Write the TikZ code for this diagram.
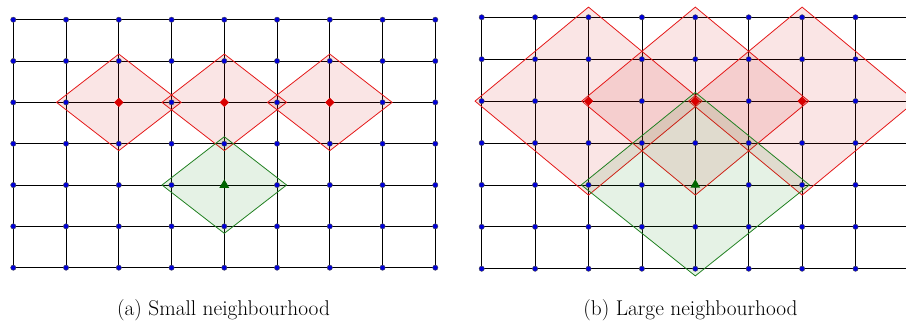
\documentclass[tikz,border=0pt]{standalone}
\usepackage{tikz}
\usetikzlibrary{shapes.geometric}
\definecolor{vertexblue}{rgb}{0.0, 0.0, 0.85}
\definecolor{hoodred}{rgb}{0.9, 0.1, 0.1}
\definecolor{hoodredfill}{rgb}{0.8, 0.0, 0.0}
\definecolor{hoodgreen}{rgb}{0.13, 0.5, 0.13}

\begin{document}
\begin{tikzpicture}[x=0.75pt, y=-0.75pt,
		gridline/.style={black, line width=0.55pt},
		vertex/.style={circle, draw=black!70, fill=vertexblue, line width=0.3pt, inner sep=0pt, minimum size=4pt},
		redhood/.style={draw=hoodred, fill=hoodredfill, fill opacity=0.1, line width=0.6pt},
		greenhood/.style={draw=hoodgreen, fill=green!50!black, fill opacity=0.1, line width=0.6pt},
		redmark/.style={diamond, fill=red!85!black, draw=red!85!black, inner sep=0pt, minimum width=6.5pt, minimum height=6.5pt},
		greenmark/.style={regular polygon, regular polygon sides=3, fill=green!40!black, inner sep=0pt, minimum size=8.5pt},
		caption/.style={font=\fontsize{16}{19}\selectfont, anchor=base}
	]
	\useasboundingbox (0,0) rectangle (906,322);

	% (a) small neighbourhood
	\foreach \i in {0,...,8}
		\foreach \j in {0,...,6}
			\coordinate (a-\i-\j) at (13.3+52.75*\i, 19.7+41.33*\j);
	\foreach \i in {0,...,8}
		\draw[gridline] (a-\i-0) -- (a-\i-6);
	\foreach \j in {0,...,6}
		\draw[gridline] (a-0-\j) -- (a-8-\j);
	\foreach \c in {2,4,6}
		\draw[redhood, shift={(a-\c-2)}] (-62.3,0) -- (0,-48.3) -- (62.3,0) -- (0,48.3) -- cycle;
	\draw[greenhood, shift={(a-4-4)}] (-62.3,0) -- (0,-48.3) -- (62.3,0) -- (0,48.3) -- cycle;
	\foreach \i in {0,...,8}
		\foreach \j in {0,...,6}
			\node[vertex] (av-\i-\j) at (a-\i-\j) {};
	\foreach \c in {2,4,6}
		\node[redmark] (ared-\c) at (a-\c-2) {};
	\node[greenmark] (agreen) at (a-4-4) {};
	\node[caption] (capa) at (223.5,315) {(a) Small neighbourhood};

	% (b) large neighbourhood
	\begin{scope}
		\clip (453,0) rectangle (906,322);
		\foreach \i in {0,...,8}
			\foreach \j in {0,...,6}
				\coordinate (b-\i-\j) at (481.7+53.4*\i, 17.3+41.9*\j);
		\foreach \i in {0,...,8}
			\draw[gridline] (b-\i-0) -- (b-\i-6);
		\foreach \j in {0,...,6}
			\draw[gridline] (b-0-\j) -- (b-8-\j);
		\foreach \c in {2,4,6}
			\draw[redhood, shift={(b-\c-2)}] (-113.5,0) -- (0,-94) -- (113.5,0) -- (0,94) -- cycle;
		\draw[greenhood, shift={(b-4-4)}] (-114,0) -- (0,-92.5) -- (114,0) -- (0,91) -- cycle;
		\foreach \i in {0,...,8}
			\foreach \j in {0,...,6}
				\node[vertex] (bv-\i-\j) at (b-\i-\j) {};
		\foreach \c in {2,4,6}
			\node[redmark] (bred-\c) at (b-\c-2) {};
		\node[greenmark] (bgreen) at (b-4-4) {};
	\end{scope}
	\node[caption] (capb) at (690.5,315) {(b) Large neighbourhood};
\end{tikzpicture}
\end{document}
